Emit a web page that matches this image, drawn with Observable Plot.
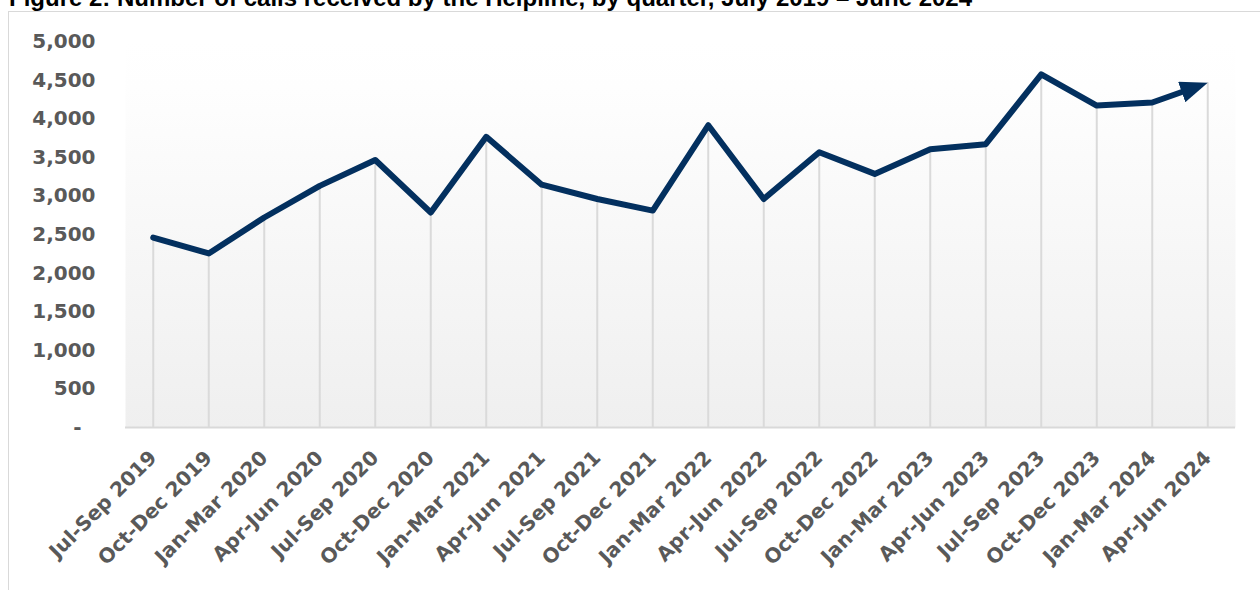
<!DOCTYPE html>
<html><head><meta charset="utf-8">
<script src="https://cdn.jsdelivr.net/npm/d3@7"></script>
<script src="https://cdn.jsdelivr.net/npm/@observablehq/plot@0.6"></script>
<style>
body{margin:0;background:#fff;}
#wrap{position:relative;width:1260px;height:590px;overflow:hidden;background:#fff;}
#box{position:absolute;left:8px;top:11px;width:1300px;height:640px;border-top:1.5px solid #d9d9d9;border-left:1.5px solid #d9d9d9;}
#title{position:absolute;left:9px;top:-14px;font-family:"Liberation Sans",Arial,sans-serif;font-weight:bold;font-size:24px;line-height:24px;white-space:nowrap;color:#000;}
#chart{position:absolute;left:0;top:0;}
</style></head><body>
<div id="wrap">
  <div id="box"></div>
  <div id="title">Figure 2: Number of calls received by the Helpline, by quarter, July 2019 – June 2024</div>
  <div id="chart"></div>
</div>
<script>
const quarters = [
  "Jul-Sep 2019","Oct-Dec 2019","Jan-Mar 2020","Apr-Jun 2020","Jul-Sep 2020",
  "Oct-Dec 2020","Jan-Mar 2021","Apr-Jun 2021","Jul-Sep 2021","Oct-Dec 2021",
  "Jan-Mar 2022","Apr-Jun 2022","Jul-Sep 2022","Oct-Dec 2022","Jan-Mar 2023",
  "Apr-Jun 2023","Jul-Sep 2023","Oct-Dec 2023","Jan-Mar 2024","Apr-Jun 2024"
];
const calls = [
  2460, 2255, 2720, 3130, 3465,
  2785, 3765, 3145, 2960, 2810,
  3915, 2960, 3565, 3285, 3605,
  3670, 4575, 4170, 4210, 4465
];
const yTicks = [0, 500, 1000, 1500, 2000, 2500, 3000, 3500, 4000, 4500, 5000];

const data = quarters.map((q, i) => ({quarter: q, calls: calls[i]}));
const navy = "#03305f";

const plot = Plot.plot({
  width: 1260, height: 590,
  marginTop: 41, marginBottom: 163, marginLeft: 125, marginRight: 25,
  style: {background: "transparent", fontFamily: "DejaVu Sans", fontSize: "20px", fontWeight: "bold", color: "#595959", overflow: "visible"},
  x: {type: "point", domain: quarters, padding: 0.5, round: false, label: null},
  y: {domain: [0, 5000], label: null},
  marks: [
    Plot.frame({fill: "url(#bgGrad)", stroke: "none"}),
    Plot.ruleX(data, {x: "quarter", y1: 0, y2: "calls", stroke: "#dadada", strokeWidth: 2}),
    Plot.ruleY([0], {stroke: "#d9d9d9", strokeWidth: 2}),
    Plot.axisY(yTicks, {tickSize: 0, tickPadding: 30, fontSize: 20, fontWeight: "bold",
      tickFormat: d => d === 0 ? "-\u00a0\u00a0" : d3.format(",")(d), label: null}),
    Plot.axisX({tickRotate: -45, tickSize: 0, tickPadding: 27, fontSize: 20, fontWeight: "bold", label: null}),
    Plot.line(data, {x: "quarter", y: "calls", stroke: navy, strokeWidth: 6, strokeLinejoin: "round", strokeLinecap: "round"})
  ]
});
document.getElementById("chart").appendChild(plot);

const svg = d3.select(plot);
const defs = svg.insert("defs", ":first-child");
const grad = defs.append("linearGradient").attr("id", "bgGrad")
  .attr("x1", 0).attr("y1", 0).attr("x2", 0).attr("y2", 1);
grad.append("stop").attr("offset", "0%").attr("stop-color", "#ffffff");
grad.append("stop").attr("offset", "12%").attr("stop-color", "#fefefe");
grad.append("stop").attr("offset", "100%").attr("stop-color", "#efefef");

const marker = defs.append("marker").attr("id", "arrowHead")
  .attr("viewBox", "0 -1.8 4.6 3.6")
  .attr("markerWidth", 4.6).attr("markerHeight", 3.6)
  .attr("refX", 4.6).attr("refY", 0).attr("orient", "auto");
marker.append("path").attr("d", "M0,-1.8L4.6,0L0,1.8Z").attr("fill", navy);

const linePath = svg.select('g[aria-label="line"] path');
const len = linePath.node().getTotalLength();
linePath.attr("stroke-dasharray", `${len - 14} 2000`).attr("marker-end", "url(#arrowHead)");
</script>
</body></html>
